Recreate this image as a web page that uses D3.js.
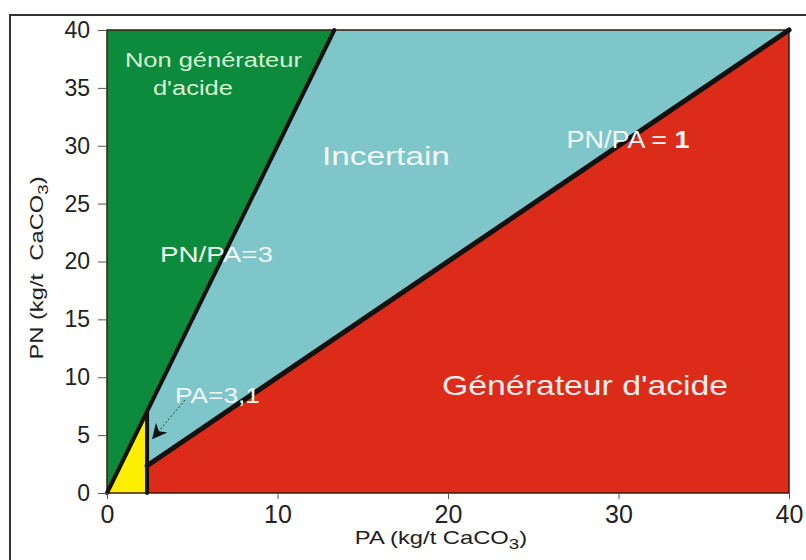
<!DOCTYPE html>
<html>
<head>
<meta charset="utf-8">
<script src="https://cdn.jsdelivr.net/npm/d3@7/dist/d3.min.js"></script>
<style>
  body { margin: 0; background: #fff; }
  svg text { font-family: "Liberation Sans", Arial, sans-serif; }
</style>
</head>
<body>
<div id="chart"></div>
<script>
// axis ticks
var xTicks = [0, 10, 20, 30, 40];
var yTicks = [0, 5, 10, 15, 20, 25, 30, 35, 40];

// PN/PA ratio lines and PA limit
var ratioHigh = 3;
var ratioLow = 1;
var paLimit = 2.35;
var maxVal = 40;

// zone names
var zoneNames = ["Non générateur", "d'acide", "Incertain", "Générateur d'acide"];

var width = 806, height = 560;
var svg = d3.select("#chart").append("svg")
	.attr("width", width)
	.attr("height", height);

var x = d3.scaleLinear().domain([0, maxVal]).range([107, 789]);
var y = d3.scaleLinear().domain([0, maxVal]).range([493, 30]);

// outer frame
svg.append("path")
	.attr("d", "M10,560 V15 H806")
	.attr("fill", "none")
	.attr("stroke", "#333")
	.attr("stroke-width", 2);

var xTop = maxVal / ratioHigh;
var zones = [
	{ color: "#0c8b3d", pts: [[0, 0], [0, maxVal], [xTop, maxVal]] },
	{ color: "#7ec6ca", pts: [[paLimit, paLimit * ratioHigh], [xTop, maxVal], [maxVal, maxVal], [paLimit, paLimit * ratioLow]] },
	{ color: "#dc2b19", pts: [[paLimit, 0], [paLimit, paLimit * ratioLow], [maxVal, maxVal * ratioLow], [maxVal, 0]] },
	{ color: "#fbee00", pts: [[0, 0], [paLimit, 0], [paLimit, paLimit * ratioHigh]] }
];

var line = d3.line().x(function(d) { return x(d[0]); }).y(function(d) { return y(d[1]); });

svg.selectAll("path.zone")
	.data(zones)
	.enter().append("path")
	.attr("class", "zone")
	.attr("d", function(d) { return line(d.pts) + "Z"; })
	.attr("fill", function(d) { return d.color; });

// plot border
svg.append("rect")
	.attr("x", x(0))
	.attr("y", y(maxVal))
	.attr("width", x(maxVal) - x(0))
	.attr("height", y(0) - y(maxVal))
	.attr("fill", "none")
	.attr("stroke", "#3a1a10")
	.attr("stroke-width", 1.5);

// black boundary lines
var bounds = [
	{ w: 4, pts: [[0, 0], [xTop, maxVal]] },
	{ w: 5, pts: [[paLimit, paLimit * ratioLow], [maxVal, maxVal * ratioLow]] },
	{ w: 4, pts: [[paLimit, 0], [paLimit, paLimit * ratioHigh]] }
];
svg.selectAll("path.bound")
	.data(bounds)
	.enter().append("path")
	.attr("class", "bound")
	.attr("d", function(d) { return line(d.pts); })
	.attr("fill", "none")
	.attr("stroke", "#111")
	.attr("stroke-width", function(d) { return d.w; })
	.attr("stroke-linecap", "round");

// axes
var yAxis = svg.append("g")
	.attr("transform", "translate(" + x(0) + ",0)")
	.call(d3.axisLeft(y).tickValues(yTicks).tickSize(9).tickPadding(8));
yAxis.select(".domain").remove();
yAxis.selectAll("line").attr("stroke", "#555");
yAxis.selectAll("text").attr("font-size", 23).attr("fill", "#222")
	.attr("font-family", "Liberation Sans, Arial, sans-serif");

var xAxis = svg.append("g")
	.attr("transform", "translate(0," + y(0) + ")")
	.call(d3.axisBottom(x).tickValues(xTicks).tickSize(6).tickPadding(6));
xAxis.select(".domain").remove();
xAxis.selectAll("line").attr("stroke", "#555");
xAxis.selectAll("text").attr("font-size", 25).attr("fill", "#222")
	.attr("font-family", "Liberation Sans, Arial, sans-serif");

// axis titles (stretched a bit like the original)
var xt = svg.append("text")
	.attr("transform", "translate(441,544) scale(1.25,1)")
	.attr("text-anchor", "middle")
	.attr("font-size", 19).attr("fill", "#222");
xt.append("tspan").text("PA (kg/t CaCO");
xt.append("tspan").attr("dy", 5).attr("font-size", 15).text("3");
xt.append("tspan").attr("dy", -5).text(")");

var yt = svg.append("text")
	.attr("transform", "translate(43,268) rotate(-90) scale(1.25,1)")
	.attr("text-anchor", "middle")
	.attr("font-size", 19).attr("fill", "#222")
	.attr("xml:space", "preserve");
yt.append("tspan").text("PN (kg/t  CaCO");
yt.append("tspan").attr("dy", 5).attr("font-size", 15).text("3");
yt.append("tspan").attr("dy", -5).text(")");

// zone labels
function label(txt, px, py, size, color, len) {
	var t = svg.append("text")
		.attr("x", x(px)).attr("y", y(py))
		.attr("text-anchor", "middle")
		.attr("font-size", size)
		.attr("fill", color)
		.text(txt);
	if (len) t.attr("textLength", len).attr("lengthAdjust", "spacingAndGlyphs");
	return t;
}
label(zoneNames[0], 6.24, 36.8, 20, "#d8f3d4", 177);
label(zoneNames[1], 5.04, 34.4, 20, "#d8f3d4", 80);
label(zoneNames[2], 16.36, 28.33, 26, "#f2f7f7", 128);
label(zoneNames[3], 28.04, 8.47, 28, "#f8eeee", 286);

var r1 = label("PN/PA = ", 30.56, 29.8, 23, "#f6f6f6", 123);
r1.append("tspan").attr("font-weight", "bold").text("1");

label("PN/PA=3", 6.42, 19.96, 22, "#f0f6f0", 113);
label("PA=3,1", 6.48, 7.78, 22, "#eef6f6", 85);

// arrow pointing to the PA limit
svg.append("defs").append("marker")
	.attr("id", "head")
	.attr("viewBox", "0 0 10 10")
	.attr("refX", 9).attr("refY", 5)
	.attr("markerWidth", 18).attr("markerHeight", 15)
	.attr("markerUnits", "userSpaceOnUse")
	.attr("orient", "auto")
	.append("path")
	.attr("d", "M0,0 L10,5 L0,10 L3,5 Z")
	.attr("fill", "#111");

svg.append("line")
	.attr("x1", x(4.57)).attr("y1", y(8.03))
	.attr("x2", x(2.7)).attr("y2", y(4.75))
	.attr("stroke", "#333")
	.attr("stroke-width", 1)
	.attr("stroke-dasharray", "2,2")
	.attr("marker-end", "url(#head)");
</script>
</body>
</html>
